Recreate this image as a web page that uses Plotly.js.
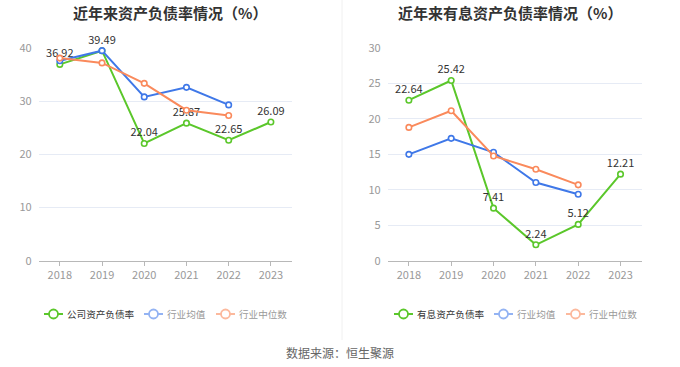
<!DOCTYPE html>
<html><head><meta charset="utf-8">
<script src="https://cdn.plot.ly/plotly-3.0.1.min.js"></script>
<style>html,body{margin:0;padding:0;background:#fff}#c{width:680px;height:367px}</style>
</head><body><div id="c"></div>
<script>
const years = ['2018','2019','2020','2021','2022','2023'];
const indYears = ['2018','2019','2020','2021','2022'];
// Left chart: 资产负债率
const companyDebt = [36.92, 39.49, 22.04, 25.87, 22.65, 26.09];
const industryMeanDebt = [37.6, 39.5, 30.8, 32.6, 29.3];
const industryMedianDebt = [38.1, 37.2, 33.35, 28.3, 27.3];
// Right chart: 有息资产负债率
const companyInterest = [22.64, 25.42, 7.41, 2.24, 5.12, 12.21];
const industryMeanInterest = [15.0, 17.26, 15.29, 11.03, 9.38];
const industryMedianInterest = [18.8, 21.15, 14.77, 12.9, 10.7];

const leftTitle = '近年来资产负债率情况（%）';
const rightTitle = '近年来有息资产负债率情况（%）';
const leftLegend = ['公司资产负债率', '行业均值', '行业中位数'];
const rightLegend = ['有息资产负债率', '行业均值', '行业中位数'];
const source = '数据来源：恒生聚源';

const GREEN = '#5bc72b', BLUE = '#3f78e8', ORANGE = '#fa8a5c';
const LEG_COLORS = ['#5bc72b', '#93b3f3', '#fcb99d'];
const LEG_TEXT = ['#333', '#999', '#999'];
const FONT = '"Noto Sans CJK SC", "Noto Sans", sans-serif';
const W = 680, H = 367;

function line(x, y, color, xa, ya, withText) {
  const t = {
    x: x, y: y, xaxis: xa, yaxis: ya, type: 'scatter',
    mode: withText ? 'lines+markers+text' : 'lines+markers',
    line: {color: color, width: 2},
    marker: {symbol: 'circle', size: 5.5, color: '#fff', line: {color: color, width: 1.6}},
    showlegend: false, hoverinfo: 'skip', cliponaxis: false
  };
  if (withText) {
    t.text = y.map(v => v.toFixed(2));
    t.textposition = 'top center';
    t.textfont = {family: FONT, size: 11, color: '#333'};
  }
  return t;
}

const data = [
  line(years, companyDebt, GREEN, 'x', 'y', true),
  line(indYears, industryMeanDebt, BLUE, 'x', 'y', false),
  line(indYears, industryMedianDebt, ORANGE, 'x', 'y', false),
  line(years, companyInterest, GREEN, 'x2', 'y2', true),
  line(indYears, industryMeanInterest, BLUE, 'x2', 'y2', false),
  line(indYears, industryMedianInterest, ORANGE, 'x2', 'y2', false)
];

const shapes = [{type: 'line', xref: 'paper', yref: 'paper', x0: 342/W, x1: 342/W, y0: 1 - 340/H, y1: 1,
  line: {color: '#f0f0f0', width: 1}}];
const annotations = [
  {text: '<b>' + leftTitle + '</b>', xref: 'paper', yref: 'paper', x: 170/W, y: 1 - 13/H,
   xanchor: 'center', yanchor: 'middle', showarrow: false, font: {family: FONT, size: 15, color: '#333'}},
  {text: '<b>' + rightTitle + '</b>', xref: 'paper', yref: 'paper', x: 510/W, y: 1 - 13/H,
   xanchor: 'center', yanchor: 'middle', showarrow: false, font: {family: FONT, size: 15, color: '#333'}},
  {text: source, xref: 'paper', yref: 'paper', x: 340/W, y: 1 - 352/H,
   xanchor: 'center', yanchor: 'middle', showarrow: false, font: {family: FONT, size: 12, color: '#666'}}
];

// custom legends (icon = short line with open circle, then label)
const LY = 314;
function addLegend(labels, iconStarts) {
  labels.forEach((lab, i) => {
    const x0 = iconStarts[i], x1 = x0 + 19, cx = x0 + 9.5, c = LEG_COLORS[i];
    shapes.push({type: 'line', xref: 'paper', yref: 'paper', x0: x0/W, x1: x1/W, y0: 1 - LY/H, y1: 1 - LY/H,
      line: {color: c, width: 2}});
    shapes.push({type: 'circle', xref: 'paper', yref: 'paper', x0: (cx - 4.5)/W, x1: (cx + 4.5)/W,
      y0: 1 - (LY + 4.5)/H, y1: 1 - (LY - 4.5)/H, fillcolor: '#fff', line: {color: c, width: 1.8}});
    annotations.push({text: lab, xref: 'paper', yref: 'paper', x: (x1 + 3)/W, y: 1 - LY/H,
      xanchor: 'left', yanchor: 'middle', showarrow: false, borderpad: 0,
      font: {family: FONT, size: 9.6, color: LEG_TEXT[i]}});
  });
}
addLegend(leftLegend, [44, 144, 216]);
addLegend(rightLegend, [394, 494, 566]);

const xBase = {
  type: 'category', range: [-0.5, 5.5], showgrid: false, zeroline: false,
  showline: true, linecolor: '#b8b8b8', linewidth: 1,
  ticks: 'outside', ticklen: 4, tickcolor: '#b8b8b8',
  tickfont: {family: FONT, size: 11, color: '#999'}, fixedrange: true
};
const yBase = {
  showgrid: true, gridcolor: '#e6ebf5', gridwidth: 1, zeroline: false, showline: false,
  ticks: '', tickfont: {family: FONT, size: 11, color: '#999'}, ticklabelstandoff: 6, fixedrange: true
};

const layout = {
  width: W, height: H, margin: {l: 0, r: 0, t: 0, b: 0},
  paper_bgcolor: '#fff', plot_bgcolor: '#fff',
  font: {family: FONT}, showlegend: false,
  xaxis: Object.assign({}, xBase, {domain: [38.7/W, 292/W], anchor: 'y'}),
  yaxis: Object.assign({}, yBase, {domain: [1 - 260.7/H, 1 - 48/H], range: [0, 40], dtick: 10, anchor: 'x'}),
  xaxis2: Object.assign({}, xBase, {domain: [387.7/W, 641.7/W], anchor: 'y2'}),
  yaxis2: Object.assign({}, yBase, {domain: [1 - 260.7/H, 1 - 48/H], range: [0, 30], dtick: 5, anchor: 'x2'}),
  shapes: shapes,
  annotations: annotations
};
Plotly.newPlot('c', data, layout, {displayModeBar: false, staticPlot: true});
</script></body></html>
